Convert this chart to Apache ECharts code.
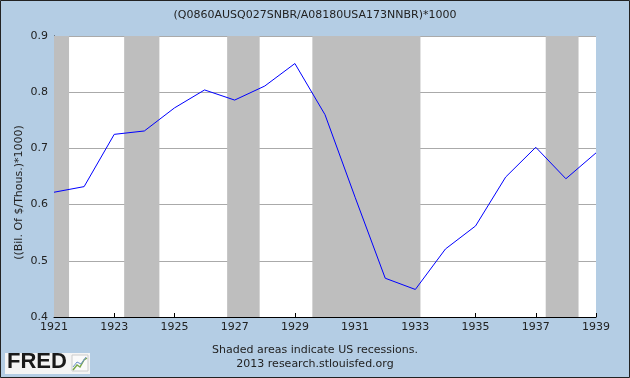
<!DOCTYPE html>
<html>
<head>
<meta charset="utf-8">
<script src="https://cdn.jsdelivr.net/npm/echarts@6/dist/echarts.min.js"></script>
<style>
  html, body { margin: 0; padding: 0; }
  #chart { width: 630px; height: 378px; }
</style>
</head>
<body>
<div id="chart"></div>
<script>
// annual observations, 1921-1939
const years = [1921, 1922, 1923, 1924, 1925, 1926, 1927, 1928, 1929, 1930,
    1931, 1932, 1933, 1934, 1935, 1936, 1937, 1938, 1939];
const values = [0.622, 0.632, 0.725, 0.731, 0.772, 0.804, 0.786, 0.811, 0.851, 0.760,
    0.613, 0.469, 0.449, 0.521, 0.562, 0.649, 0.702, 0.646, 0.692];

// recession periods (decimal years)
const recessions = [
    [1920.0, 1921.5],
    [1923.33, 1924.5],
    [1926.75, 1927.83],
    [1929.58, 1933.17],
    [1937.33, 1938.42]
];

const yTicks = [0.4, 0.5, 0.6, 0.7, 0.8, 0.9];

const font = 'DejaVu Sans';
const chart = echarts.init(document.getElementById('chart'));

const option = {
    backgroundColor: '#b4cde4',
    animation: false,
    title: {
        text: '(Q0860AUSQ027SNBR/A08180USA173NNBR)*1000',
        left: 'center',
        top: 5,
        textStyle: {
            fontFamily: font,
            fontSize: 11,
            fontWeight: 'normal',
            color: '#222'
        }
    },
    grid: {
        left: 54,
        right: 34,
        top: 36,
        bottom: 61,
        show: true,
        backgroundColor: '#fff',
        borderWidth: 0
    },
    xAxis: {
        type: 'value',
        min: 1921,
        max: 1939,
        interval: 2,
        axisLine: { lineStyle: { color: '#000', width: 1 } },
        axisTick: { inside: true, length: 4, lineStyle: { color: '#000' } },
        splitLine: { show: false },
        axisLabel: {
            fontFamily: font,
            fontSize: 11,
            color: '#222',
            margin: 5,
            formatter: v => String(v)
        }
    },
    yAxis: {
        type: 'value',
        min: yTicks[0],
        max: yTicks[yTicks.length - 1],
        interval: 0.1,
        name: '((Bil. Of $/Thous.)*1000)',
        nameLocation: 'middle',
        nameGap: 29,
        nameMoveOverlap: false,
        nameTextStyle: {
            fontFamily: font,
            fontSize: 11,
            color: '#222',
            padding: [0, 32, 0, 0]
        },
        axisLine: { show: true, lineStyle: { color: '#000', width: 1 } },
        axisTick: { show: true, inside: true, length: 4, lineStyle: { color: '#000' } },
        splitLine: { lineStyle: { color: '#aaa', width: 1 } },
        axisLabel: {
            fontFamily: font,
            fontSize: 11,
            color: '#222',
            margin: 6,
            formatter: v => v.toFixed(1)
        }
    },
    series: [{
        type: 'line',
        data: years.map((y, i) => [y, values[i]]),
        symbol: 'none',
        lineStyle: { color: '#0000ff', width: 1 },
        clip: true,
        markArea: {
            silent: true,
            itemStyle: { color: '#bebebe', opacity: 1 },
            data: recessions.map(r => [
                { xAxis: Math.max(r[0], 1921) },
                { xAxis: r[1] }
            ])
        },
        z: 3
    }],
    graphic: [
        {
            type: 'text',
            left: 'center',
            top: 345,
            style: {
                text: 'Shaded areas indicate US recessions.',
                font: '11px "DejaVu Sans"',
                fill: '#222'
            }
        },
        {
            type: 'text',
            left: 'center',
            top: 359,
            style: {
                text: '2013 research.stlouisfed.org',
                font: '11px "DejaVu Sans"',
                fill: '#222'
            }
        },
        {
            type: 'rect',
            shape: { x: 5, y: 353, width: 85, height: 21 },
            style: { fill: '#f4f4f4' }
        },
        {
            type: 'text',
            x: 7,
            y: 351,
            style: {
                text: 'FRED',
                font: '900 22px "Liberation Sans"',
                fill: '#1a1a1a'
            }
        },
        {
            type: 'rect',
            shape: { x: 72, y: 355, width: 16, height: 16 },
            style: { fill: '#fafafa', stroke: '#ccc', lineWidth: 1 }
        },
        {
            type: 'polyline',
            shape: { points: [[73, 370], [77, 365], [80, 367], [84, 360], [87, 358]] },
            style: { stroke: '#7aa84a', lineWidth: 1.5, fill: null }
        },
        {
            type: 'polyline',
            shape: { points: [[73, 367], [77, 362], [81, 364], [86, 357]] },
            style: { stroke: '#6b8fc8', lineWidth: 1, fill: null }
        },
        {
            type: 'rect',
            shape: { x: 0.5, y: 0.5, width: 629, height: 377 },
            style: { fill: null, stroke: '#222', lineWidth: 1 }
        }
    ]
};

chart.setOption(option);
</script>
</body>
</html>
